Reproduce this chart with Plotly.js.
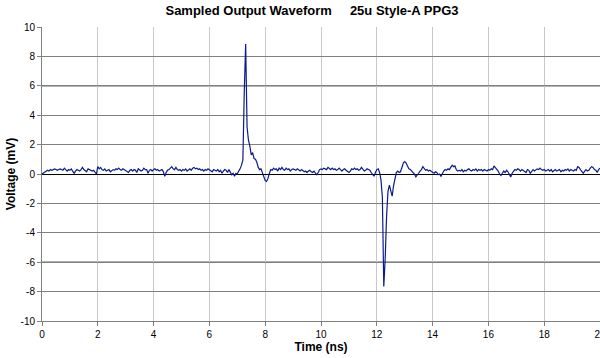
<!DOCTYPE html>
<html>
<head>
<meta charset="utf-8">
<script src="https://cdn.plot.ly/plotly-3.0.1.min.js"></script>
<style>html,body{margin:0;padding:0;background:#fff;}#chart{width:600px;height:358px;}</style>
</head>
<body>
<div id="chart"></div>
<script>
// Sampling grid (ns)
const t0 = 0;
const dt = 0.05;
// Voltage (mV), one array per nanosecond
const v00 = [0.0,0.05,0.15,0.2,0.25,0.2,0.3,0.25,0.3,0.35,0.3,0.25,0.3,0.35,0.3,0.25,0.4,0.3,0.2,0.3];
const v01 = [0.25,0.35,0.15,0.05,0.2,0.3,0.25,0.2,0.3,0.45,0.3,0.2,0.15,0.35,0.3,0.25,0.2,0.25,0.1,0.0];
const v02 = [0.5,0.35,0.45,0.3,0.25,0.35,0.2,0.25,0.3,0.15,0.2,0.3,0.25,0.35,0.3,0.4,0.3,0.25,0.35,0.3];
const v03 = [0.2,0.15,0.1,0.25,0.3,0.2,0.3,0.25,0.1,0.35,0.3,0.2,0.25,0.4,0.3,0.3,0.05,0.25,0.3,0.2];
const v04 = [0.3,0.35,0.25,0.3,0.2,0.25,0.3,0.15,-0.15,0.1,0.25,0.3,0.4,0.5,0.35,0.3,0.45,0.3,0.25,0.3];
const v05 = [0.2,0.3,0.25,0.35,0.2,0.3,0.35,0.25,0.4,0.45,0.35,0.4,0.3,0.35,0.25,0.3,0.2,0.3,0.25,0.35];
const v06 = [0.3,0.2,0.15,0.3,0.25,0.2,0.3,0.15,0.25,0.05,0.2,0.3,0.25,0.1,0.3,0.1,-0.05,0.05,-0.15,0.05];
const v07 = [0.0,0.2,0.35,0.6,0.95,5.6,8.85,3.2,2.3,1.9,1.3,1.45,1.05,1.0,0.8,0.45,0.3,0.35,0.05,-0.15];
const v08 = [-0.45,-0.5,-0.3,0.05,0.3,0.25,0.4,0.3,0.35,0.2,0.4,0.3,0.45,0.3,0.25,0.4,0.3,0.35,0.2,0.3];
const v09 = [0.35,0.3,0.25,0.35,0.3,0.2,0.3,0.25,0.15,0.2,0.1,0.2,0.25,0.15,0.1,0.2,0.05,-0.05,0.1,0.3];
const v10 = [0.35,0.3,0.4,0.35,0.3,0.45,0.35,0.3,0.4,0.3,0.35,0.25,0.3,0.4,0.3,0.2,0.3,0.35,0.25,0.15];
const v11 = [0.1,0.2,0.35,0.3,0.4,0.3,0.35,0.25,0.3,0.45,0.3,0.2,0.25,0.35,0.3,0.25,0.1,-0.05,-0.15,0.1];
const v12 = [0.3,0.35,0.1,-0.4,-1.6,-7.65,-5.8,-2.9,-1.2,-0.75,-1.1,-1.5,-0.8,-0.3,0.1,0.2,0.1,0.15,0.5,0.75];
const v13 = [0.85,0.75,0.55,0.35,0.3,0.2,0.1,0.0,-0.2,-0.1,0.05,0.2,0.3,0.5,0.35,0.25,0.3,0.2,0.25,0.2];
const v14 = [0.1,0.05,0.15,0.1,-0.05,0.0,-0.15,0.05,0.2,0.3,0.25,0.35,0.3,0.45,0.6,0.5,0.55,0.3,0.2,0.25];
const v15 = [0.2,0.3,0.15,0.25,0.2,0.3,0.35,0.25,0.2,0.3,0.25,0.35,0.2,0.3,0.25,0.3,0.2,0.3,0.25,0.2];
const v16 = [0.3,0.25,0.35,0.3,0.55,0.45,0.3,0.2,0.0,-0.1,0.05,0.2,0.1,0.25,0.15,0.0,-0.2,0.05,0.2,0.3];
const v17 = [0.25,0.35,0.3,0.2,0.3,0.25,0.2,0.1,0.3,0.25,0.05,0.15,0.3,0.2,0.25,0.35,0.3,0.4,0.3,0.25];
const v18 = [0.3,0.2,0.25,0.3,0.2,0.3,0.15,0.25,0.3,0.2,0.25,0.3,0.15,0.25,0.2,0.3,0.25,0.35,0.2,0.3];
const v19 = [0.25,0.2,0.3,0.25,0.5,0.45,0.3,0.15,0.05,0.2,0.3,0.2,0.25,0.4,0.5,0.45,0.3,0.25,0.1,0.3,0.4];

const voltage = [].concat(v00,v01,v02,v03,v04,v05,v06,v07,v08,v09,v10,v11,v12,v13,v14,v15,v16,v17,v18,v19);
const xTicks = [0,2,4,6,8,10,12,14,16,18,20];
const yTicks = [-10,-8,-6,-4,-2,0,2,4,6,8,10];
const darkGridLevels = [-6,6];

const FONT = 'Liberation Sans, Arial, sans-serif';

const trace = {
  type: 'scatter', mode: 'lines',
  x0: t0, dx: dt, y: voltage,
  line: {color: '#0b1b8e', width: 1.2},
  hoverinfo: 'skip'
};

const shapes = darkGridLevels.map(v => ({
  type: 'line', xref: 'paper', x0: 0, x1: 1, yref: 'y', y0: v, y1: v,
  line: {color: '#000000', width: 1}, layer: 'below'
}));

const layout = {
  width: 600, height: 358,
  margin: {l: 42, r: 0, t: 27, b: 37, pad: 0},
  paper_bgcolor: '#ffffff', plot_bgcolor: '#ffffff',
  showlegend: false,
  font: {family: FONT, color: '#000000', size: 10},
  title: {
    text: 'Sampled Output Waveform\u00a0\u00a0\u00a0\u00a0\u00a025u Style-A PPG3',
    font: {family: FONT, size: 13, color: '#000000', weight: 'bold'},
    x: 0.52, xref: 'container', xanchor: 'center',
    y: 0.972, yref: 'container', yanchor: 'middle'
  },
  xaxis: {
    range: [0, 20], tickvals: xTicks, ticktext: xTicks.map(String),
    ticklabeloverflow: 'allow',
    showgrid: true, gridcolor: '#c8c8c8', gridwidth: 1,
    zeroline: false, showline: true, linecolor: '#808080', linewidth: 1,
    ticks: 'outside', ticklen: 4, tickcolor: '#808080',
    tickfont: {family: FONT, size: 10, color: '#000000'},
    title: {text: 'Time (ns)', font: {family: FONT, size: 12, weight: 'bold'}, standoff: 1}
  },
  yaxis: {
    range: [-10, 10], tickvals: yTicks, ticktext: yTicks.map(String),
    showgrid: true, gridcolor: '#808080', gridwidth: 1,
    zeroline: true, zerolinecolor: '#000000', zerolinewidth: 1,
    showline: true, linecolor: '#808080', linewidth: 1,
    ticks: 'outside', ticklen: 4, tickcolor: '#808080',
    tickfont: {family: FONT, size: 10, color: '#000000'},
    title: {text: 'Voltage (mV)', font: {family: FONT, size: 12, weight: 'bold'}, standoff: 2}
  },
  shapes: shapes
};

Plotly.newPlot('chart', [trace], layout, {displayModeBar: false, staticPlot: true});
</script>
</body>
</html>
